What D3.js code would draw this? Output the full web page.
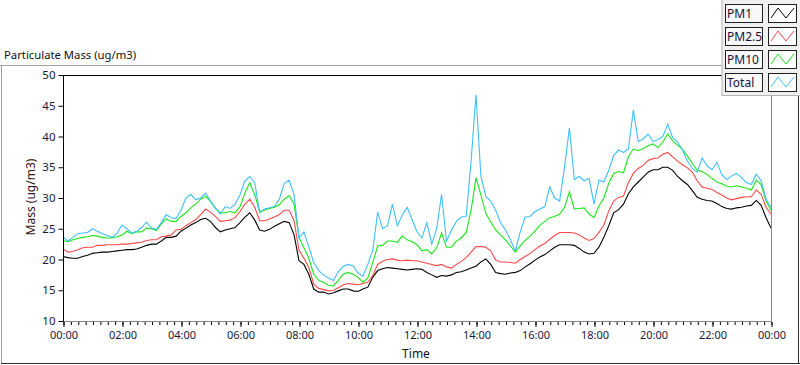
<!DOCTYPE html>
<html><head><meta charset="utf-8">
<script src="https://cdn.jsdelivr.net/npm/d3@7"></script>
<style>
html,body{margin:0;padding:0;background:#fff;}
svg{display:block;font-family:"Noto Sans","Open Sans",sans-serif;}
</style></head>
<body><svg id="c" width="800" height="365"></svg>
<script>
// ---- data (10-minute samples, 00:00 .. 24:00) ----
const sampleMinutes = d3.range(0, 24 * 60 + 1, 10);
const seriesNames = ["PM1", "PM2.5", "PM10", "Total"];
const pm1 = [
20.5,20.3,20.2,20.2,20.5,20.7,21.0,21.1,21.2,21.2,21.3,21.4,21.5,21.6,21.6,21.7,22.0,22.3,
22.5,22.5,23.0,23.6,23.6,23.8,24.6,25.1,25.6,26.0,26.5,26.7,26.2,25.2,24.5,24.8,25.0,25.2,
26.0,26.9,27.6,26.4,24.8,24.6,24.9,25.4,25.8,26.2,26.0,24.0,19.8,19.2,17.6,15.2,14.7,14.7,
14.4,14.6,14.9,15.2,15.2,14.9,14.8,15.2,15.5,17.1,18.2,18.5,18.7,18.6,18.5,18.4,18.3,18.4,
18.5,18.4,17.9,17.5,17.1,17.4,17.3,17.5,17.9,18.0,18.3,18.6,18.9,19.6,20.1,19.2,17.9,17.7,
17.6,17.8,17.9,18.2,18.8,19.3,19.9,20.4,20.8,21.4,22.0,22.4,22.4,22.4,22.3,21.8,21.2,20.9,
21.0,22.0,23.6,25.5,27.6,28.1,29.0,30.7,31.8,32.6,33.4,34.2,34.6,34.6,35.0,35.0,34.5,33.5,
32.8,32.2,31.2,30.1,29.8,29.6,29.5,29.1,28.6,28.3,28.2,28.4,28.5,28.7,28.8,29.6,28.8,26.8,25.1];
const pm25 = [
21.7,21.2,21.3,21.6,21.9,22.0,22.0,22.3,22.3,22.4,22.4,22.4,22.5,22.5,22.6,22.7,22.8,23.1,
23.2,23.2,23.7,23.8,24.0,24.8,24.9,25.5,26.0,26.5,27.3,28.2,27.7,27.0,26.2,26.3,26.4,26.8,
27.8,29.0,29.8,28.5,26.3,26.3,26.6,26.9,27.3,28.0,28.0,26.3,21.5,20.2,18.7,16.0,15.3,15.1,
14.9,15.0,15.4,15.9,16.1,16.0,15.9,16.1,16.3,17.4,19.2,19.7,20.0,20.1,19.9,19.8,19.9,19.8,
19.8,19.6,19.4,19.2,19.0,19.2,18.8,18.6,19.2,19.7,20.3,21.2,22.1,22.1,22.0,21.4,19.9,19.6,
19.6,19.5,19.4,20.0,20.5,21.0,21.6,22.2,22.6,23.3,23.9,24.4,24.4,24.4,24.3,24.0,23.5,23.1,
23.4,24.4,25.6,27.9,29.5,30.1,30.3,32.5,34.0,34.8,35.3,36.1,36.4,36.5,37.1,37.4,36.7,36.0,
35.4,34.9,34.2,32.8,31.8,31.6,31.4,30.9,30.5,30.0,29.7,29.9,30.1,30.2,30.2,31.3,30.6,28.5,27.4];
const pm10 = [
23.1,22.9,23.2,23.4,23.6,23.7,23.9,23.8,23.6,23.5,23.5,23.7,24.0,24.6,24.2,24.5,24.5,25.1,
25.0,24.7,25.8,26.6,26.2,26.2,27.0,27.6,28.4,29.0,29.8,30.3,29.4,28.3,27.6,27.6,27.8,27.6,
28.6,30.8,32.5,30.5,27.8,28.0,28.3,28.5,28.9,29.8,30.4,29.0,23.6,21.9,20.2,17.6,16.6,16.3,
15.8,15.7,16.6,17.6,17.9,17.6,17.1,16.3,17.0,19.5,22.2,22.3,23.0,23.0,22.8,23.8,23.2,22.9,
22.4,21.4,21.6,20.9,21.9,24.3,22.0,22.0,23.0,23.5,24.4,28.0,33.3,30.5,27.5,26.1,24.8,24.0,
23.2,22.2,21.2,22.2,23.1,23.8,24.6,25.6,26.2,26.8,27.0,27.4,28.5,31.0,28.2,28.3,28.4,27.4,
26.8,28.7,30.0,32.4,34.0,34.3,34.1,36.7,38.0,37.7,38.0,38.5,38.8,38.2,39.1,40.4,39.3,38.6,
37.9,36.8,35.6,34.5,34.3,33.8,33.2,32.6,32.3,31.9,31.8,32.0,31.8,31.6,31.3,32.9,32.2,29.5,28.0];
const total = [
23.7,23.0,23.6,24.2,24.3,24.4,25.0,24.6,24.2,23.9,23.6,24.3,25.6,25.0,24.3,24.6,25.2,26.1,
25.1,24.9,26.0,27.3,26.8,26.7,28.0,30.0,30.6,29.7,30.0,30.8,29.5,28.4,27.4,28.6,28.3,29.0,
30.5,32.8,33.5,32.5,27.6,28.2,28.4,28.6,29.8,32.4,32.9,30.5,23.5,24.5,22.0,19.5,18.2,17.5,
17.0,16.6,18.0,18.9,19.2,19.0,17.8,17.3,19.2,21.5,27.7,25.0,25.5,29.0,25.5,27.2,28.5,26.5,
24.5,23.5,26.0,22.5,25.0,30.6,23.0,24.7,26.2,26.9,27.0,36.0,46.8,33.5,30.3,29.5,28.0,26.0,
24.8,23.2,21.4,24.5,26.9,27.0,27.8,28.2,28.6,31.8,30.0,29.5,35.0,41.4,33.0,33.5,32.8,33.2,
29.0,32.9,32.6,34.5,36.9,37.8,37.4,38.0,44.3,39.2,39.6,40.4,39.2,39.5,40.0,42.0,39.8,39.1,
37.8,36.0,34.8,34.2,36.5,35.2,34.6,35.8,33.8,33.0,33.6,34.0,33.3,32.5,32.2,33.9,32.8,29.8,28.5];
const seriesColors = ["#000000", "#ff4848", "#18e818", "#40bfff"];
const yTicks = [10, 15, 20, 25, 30, 35, 40, 45, 50];
const xTickLabels = ["00:00","02:00","04:00","06:00","08:00","10:00","12:00","14:00","16:00","18:00","20:00","22:00","00:00"];
const chartTitle = "Particulate Mass (ug/m3)";
const yTitle = "Mass (ug/m3)";
const xTitle = "Time";

// ---- layout ----
const svg = d3.select("#c");
const L = 63, R = 771, T = 75, B = 321;
const x = d3.scaleLinear().domain([0, 1440]).range([L, R]);
const y = d3.scaleLinear().domain([10, 50]).range([B, T]);

// outer frame
svg.append("line").attr("x1",0).attr("x2",800).attr("y1",65.5).attr("y2",65.5).attr("stroke","#a0a0a0");
svg.append("line").attr("x1",1.5).attr("x2",1.5).attr("y1",65).attr("y2",364).attr("stroke","#a0a0a0");
svg.append("line").attr("x1",1).attr("x2",800).attr("y1",363.5).attr("y2",363.5).attr("stroke","#303030");
svg.append("line").attr("x1",798.5).attr("x2",798.5).attr("y1",65).attr("y2",364).attr("stroke","#303030");

// title
svg.append("text").attr("x",4).attr("y",59).attr("font-size",11.3).attr("fill","#111").text(chartTitle);

// plot area background
svg.append("rect").attr("x",L).attr("y",T).attr("width",R-L).attr("height",B-T).attr("fill","#fff");

// lines
const line = d3.line().x((d,i)=>x(sampleMinutes[i])).y(d=>y(d));
const allSeries = [pm1, pm25, pm10, total];
const g = svg.append("g");
allSeries.forEach((s,k)=>{
  g.append("path").datum(s).attr("d",line).attr("fill","none")
   .attr("stroke",seriesColors[k]).attr("stroke-width",1.1).attr("stroke-linejoin","miter");
});

// border of plot: top/left black, bottom/right gray
svg.append("line").attr("x1",L).attr("x2",R+1).attr("y1",T+0.5).attr("y2",T+0.5).attr("stroke","#000");
svg.append("line").attr("x1",L+0.5).attr("x2",L+0.5).attr("y1",T).attr("y2",B+1).attr("stroke","#000");
svg.append("line").attr("x1",L).attr("x2",R+1).attr("y1",B+0.5).attr("y2",B+0.5).attr("stroke","#888");
svg.append("line").attr("x1",R+0.5).attr("x2",R+0.5).attr("y1",T).attr("y2",B+1).attr("stroke","#888");

// y axis
const yAxis = d3.axisLeft(y).tickValues(yTicks).tickSize(5).tickPadding(3);
const ya = svg.append("g").attr("transform",`translate(${L+0.5},0)`).call(yAxis);
ya.select(".domain").remove();
ya.selectAll("text").attr("font-size",11.5).attr("font-family","Noto Sans").attr("fill","#1a1a3a");
ya.selectAll("line").attr("stroke","#000");

// x axis: major every 2h, minor every 15 min
const majorTicks = d3.range(0, 1441, 120);
const xAxisMinor = d3.axisBottom(x).tickValues(d3.range(0,1441,15)).tickSize(3).tickFormat("");
const xm = svg.append("g").attr("transform",`translate(0.5,${B+1})`).call(xAxisMinor);
xm.select(".domain").remove();
xm.selectAll("line").attr("stroke","#000");
const xAxis = d3.axisBottom(x).tickValues(majorTicks).tickSize(5).tickPadding(4)
  .tickFormat((d,i)=>xTickLabels[i]);
const xa = svg.append("g").attr("transform",`translate(0.5,${B+1})`).call(xAxis);
xa.select(".domain").remove();
xa.selectAll("line").attr("stroke","#000");
xa.selectAll("text").attr("font-size",11).attr("font-family","Noto Sans").attr("fill","#1a1a3a");

// axis titles
svg.append("text").attr("x",416).attr("y",358).attr("text-anchor","middle")
  .attr("font-size",12).attr("fill","#111").text(xTitle);
svg.append("text").attr("transform","translate(35,197) rotate(-90)").attr("text-anchor","middle")
  .attr("font-size",12).attr("fill","#3a1414").text(yTitle);

// legend
const lg = svg.append("g");
lg.append("rect").attr("x",722).attr("y",-1).attr("width",80).attr("height",96.5).attr("fill","#f0f0f0").attr("stroke","#b4b4b4");
const rowY = [4, 27, 50, 73];
seriesNames.forEach((name,k)=>{
  const ry = rowY[k];
  lg.append("rect").attr("x",725.5).attr("y",ry+0.5).attr("width",37).attr("height",18)
    .attr("fill","#f8f8f8").attr("stroke","#202020");
  lg.append("text").attr("x",727).attr("y",ry+14).attr("font-size",12).attr("fill","#14143c").text(name);
  lg.append("rect").attr("x",768.5).attr("y",ry+0.5).attr("width",28).attr("height",18)
    .attr("fill","#fff").attr("stroke","#202020");
  lg.append("polyline").attr("points",[[771,ry+14],[778,ry+4],[786,ry+14],[794,ry+4]].map(p=>p.join(",")).join(" "))
    .attr("fill","none").attr("stroke",seriesColors[k]).attr("stroke-width",1);
});
</script></body></html>
